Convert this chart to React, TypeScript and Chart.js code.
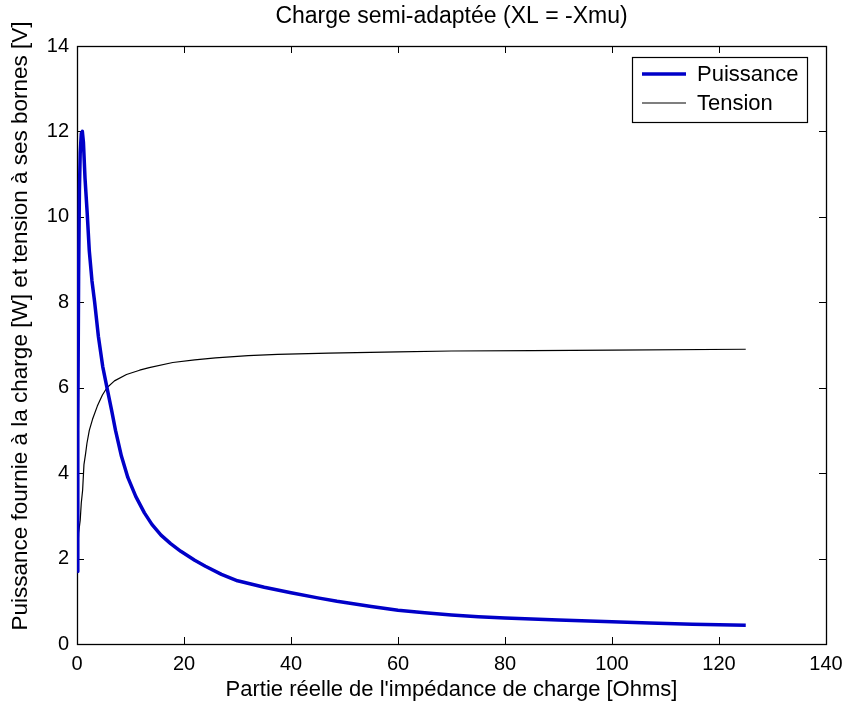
import React, { useEffect, useRef } from "react";
import { Chart, registerables } from "chart.js";

Chart.register(...registerables);

const chartTitle = "Charge semi-adaptée (XL = -Xmu)";
const xAxisTitle = "Partie réelle de l'impédance de charge [Ohms]";
const yAxisTitle = "Puissance fournie à la charge [W] et tension à ses bornes [V]";

const powerLabel = "Puissance";
const powerR = [0.05, 0.15, 0.3, 0.45, 0.6, 0.8, 1.0, 1.2, 1.5, 1.9, 2.3, 2.8, 3.3, 4.0, 4.8, 5.6, 6.5, 7.2, 8.3, 9.5, 11.0, 12.6, 14.0, 15.7, 17.5, 19.4, 22, 24, 27, 30, 35, 40, 45, 48.6, 55, 60, 65, 70, 75, 80, 90, 100, 107, 115, 125];
const powerW = [1.7, 5.0, 8.6, 10.6, 11.5, 11.95, 12.0, 11.75, 10.9, 10.1, 9.2, 8.5, 8.0, 7.2, 6.5, 6.0, 5.45, 5.0, 4.4, 3.9, 3.45, 3.07, 2.8, 2.55, 2.35, 2.17, 1.96, 1.82, 1.63, 1.48, 1.33, 1.2, 1.08, 1.0, 0.88, 0.79, 0.73, 0.68, 0.64, 0.61, 0.56, 0.52, 0.49, 0.46, 0.44];

const tensionLabel = "Tension";
const tensionR = [0.05, 0.3, 0.6, 0.8, 1.05, 1.3, 1.6, 1.86, 2.3, 2.9, 3.8, 4.75, 5.6, 7.0, 9.25, 11.7, 13.5, 17.9, 22, 25.9, 32, 37.5, 47, 60, 70, 85, 100, 125];
const tensionV = [1.7, 2.6, 2.9, 3.3, 3.6, 4.2, 4.45, 4.7, 5.0, 5.26, 5.57, 5.83, 6.0, 6.16, 6.31, 6.41, 6.47, 6.59, 6.65, 6.7, 6.75, 6.78, 6.81, 6.84, 6.86, 6.87, 6.88, 6.9];

const xTicks = [0, 20, 40, 60, 80, 100, 120, 140];
const yTicks = [0, 2, 4, 6, 8, 10, 12, 14];

const FONT = "'Liberation Sans', Arial, sans-serif";
const BLUE = "#0000C8";

const framePlugin = {
  id: "matlabFrame",
  beforeDatasetsDraw(chart: any) {
    const { ctx, chartArea: a, scales } = chart;
    const x = scales.x;
    const y = scales.y;
    const tl = 7;
    ctx.save();
    ctx.strokeStyle = "#000";
    ctx.lineWidth = 1;
    ctx.beginPath();
    for (const v of xTicks) {
      const px = Math.round(x.getPixelForValue(v)) + 0.5;
      ctx.moveTo(px, a.bottom);
      ctx.lineTo(px, a.bottom - tl);
      ctx.moveTo(px, a.top);
      ctx.lineTo(px, a.top + tl);
    }
    for (const v of yTicks) {
      const py = Math.round(y.getPixelForValue(v)) + 0.5;
      ctx.moveTo(a.left, py);
      ctx.lineTo(a.left + tl, py);
      ctx.moveTo(a.right, py);
      ctx.lineTo(a.right - tl, py);
    }
    ctx.stroke();
    ctx.lineWidth = 1.3;
    ctx.strokeRect(Math.round(a.left) + 0.5, Math.round(a.top) + 0.5, Math.round(a.right - a.left), Math.round(a.bottom - a.top));

    // y-axis title (placed like the original, slightly above the plot centre)
    ctx.save();
    ctx.translate(21, 326);
    ctx.rotate(-Math.PI / 2);
    ctx.font = `22.5px ${FONT}`;
    ctx.fillStyle = "#000";
    ctx.textAlign = "center";
    ctx.textBaseline = "middle";
    ctx.fillText(yAxisTitle, 0, 0);
    ctx.restore();
    ctx.restore();
  },
  afterDatasetsDraw(chart: any) {
    const { ctx } = chart;
    const bx = 632;
    const by = 57;
    const bw = 175;
    const bh = 65;
    ctx.save();
    ctx.fillStyle = "#fff";
    ctx.fillRect(bx, by, bw, bh);
    ctx.strokeStyle = "#000";
    ctx.lineWidth = 1.2;
    ctx.strokeRect(bx + 0.5, by + 0.5, bw, bh);
    const items = chart.data.datasets.map((d: any) => ({ label: d.label, color: d.borderColor, w: d.borderWidth }));
    const rows = [by + 17, by + 46];
    ctx.font = `22px ${FONT}`;
    ctx.textBaseline = "middle";
    ctx.textAlign = "left";
    items.forEach((it: any, i: number) => {
      ctx.strokeStyle = it.color;
      ctx.lineWidth = it.w;
      ctx.beginPath();
      ctx.moveTo(bx + 10, rows[i]);
      ctx.lineTo(bx + 54, rows[i]);
      ctx.stroke();
      ctx.fillStyle = "#000";
      ctx.fillText(it.label, bx + 65, rows[i] + 1);
    });
    ctx.restore();
  },
};

export default function App() {
  const ref = useRef<HTMLCanvasElement | null>(null);
  useEffect(() => {
    if (!ref.current) return;
    const chart = new Chart(ref.current, {
      type: "scatter",
      data: {
        datasets: [
          {
            label: powerLabel,
            data: powerR.map((r, i) => ({ x: r, y: powerW[i] })),
            showLine: true,
            borderColor: BLUE,
            backgroundColor: BLUE,
            borderWidth: 3.5,
            borderJoinStyle: "round",
            pointRadius: 0,
            tension: 0,
          },
          {
            label: tensionLabel,
            data: tensionR.map((r, i) => ({ x: r, y: tensionV[i] })),
            showLine: true,
            borderColor: "#000",
            backgroundColor: "#000",
            borderWidth: 1.2,
            borderJoinStyle: "round",
            pointRadius: 0,
            tension: 0,
          },
        ],
      },
      options: {
        animation: false,
        responsive: true,
        maintainAspectRatio: false,
        layout: { padding: { left: 0, right: 32, top: 0, bottom: 0 } },
        plugins: {
          legend: { display: false },
          tooltip: { enabled: false },
          title: {
            display: true,
            fullSize: false,
            text: chartTitle,
            color: "#000",
            font: { family: FONT, size: 23, weight: "normal", lineHeight: 1.2 },
            padding: { top: 3, bottom: 15.4 },
          },
        },
        scales: {
          x: {
            type: "linear",
            min: 0,
            max: 140,
            afterBuildTicks: (s: any) => {
              s.ticks = xTicks.map((v) => ({ value: v }));
            },
            afterFit: (s: any) => {
              s.height = 67;
            },
            grid: { display: false, drawTicks: false },
            border: { display: false },
            ticks: { color: "#000", font: { family: FONT, size: 20 }, padding: 8, maxRotation: 0 },
            title: {
              display: true,
              text: xAxisTitle,
              color: "#000",
              font: { family: FONT, size: 22, lineHeight: 1.2 },
              padding: { top: 0, bottom: 7.8 },
            },
          },
          y: {
            type: "linear",
            min: 0,
            max: 14,
            afterBuildTicks: (s: any) => {
              s.ticks = yTicks.map((v) => ({ value: v }));
            },
            afterFit: (s: any) => {
              s.width = 77;
            },
            grid: { display: false, drawTicks: false },
            border: { display: false },
            ticks: { color: "#000", font: { family: FONT, size: 20 }, padding: 8 },
            title: { display: false, text: yAxisTitle },
          },
        },
      },
      plugins: [framePlugin],
    });
    return () => chart.destroy();
  }, []);
  return (
    <div style={{ position: "fixed", left: 0, top: 0, width: 858, height: 711, background: "#fff" }}>
      <canvas ref={ref} />
    </div>
  );
}
